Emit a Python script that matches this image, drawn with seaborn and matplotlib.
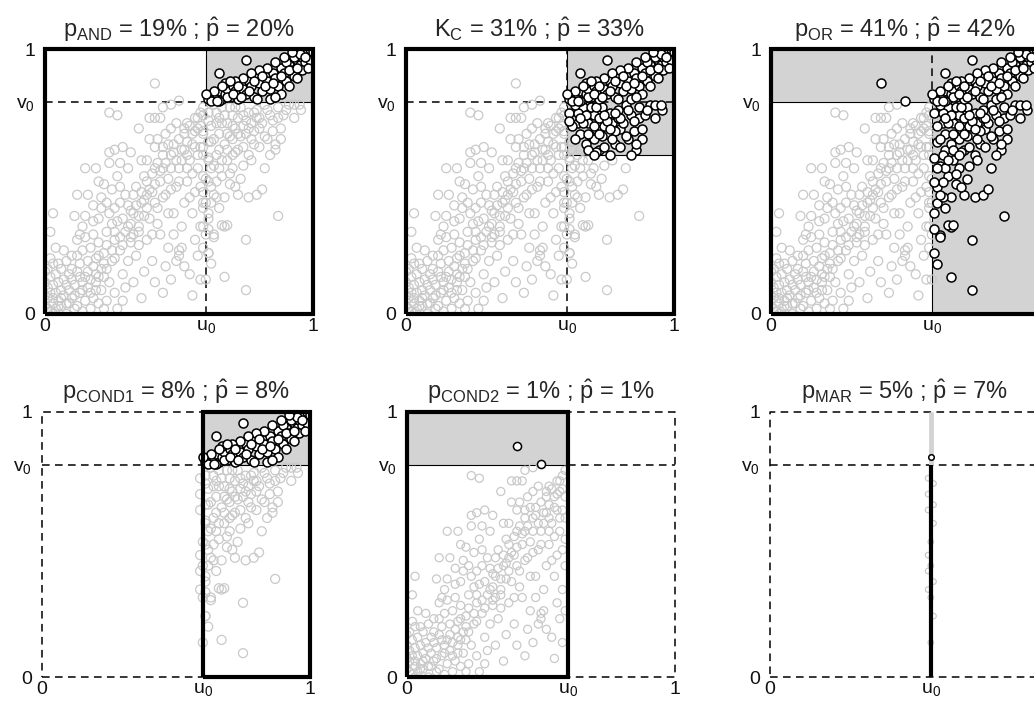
import numpy as np
import pandas as pd
import matplotlib
matplotlib.use("Agg")
import matplotlib.pyplot as plt
from matplotlib.patches import Rectangle
import seaborn as sns

# Thresholds of the six regions
U0, V0 = 0.6, 0.8

# Point cloud, grouped by area of the unit square
corner_pts = [
    (0.01, 0.02), (0.02, 0.01), (0.03, 0.04), (0.01, 0.06), (0.04, 0.02), (0.05, 0.05),
    (0.02, 0.08), (0.06, 0.03), (0.07, 0.07), (0.03, 0.11), (0.08, 0.04), (0.09, 0.09),
    (0.05, 0.12), (0.10, 0.06), (0.11, 0.11), (0.04, 0.15), (0.12, 0.03), (0.13, 0.08),
    (0.07, 0.13), (0.14, 0.12), (0.02, 0.14), (0.06, 0.17), (0.09, 0.15), (0.12, 0.16),
    (0.15, 0.05), (0.16, 0.10), (0.01, 0.10), (0.00, 0.03), (0.00, 0.07), (0.03, 0.00),
    (0.08, 0.00), (0.06, 0.09), (0.10, 0.13), (0.13, 0.14), (0.05, 0.19), (0.08, 0.20),
    (0.11, 0.02), (0.14, 0.01), (0.17, 0.02), (0.18, 0.06), (0.02, 0.21), (0.04, 0.25),
    (0.07, 0.24), (0.10, 0.22), (0.13, 0.19), (0.16, 0.16), (0.19, 0.12), (0.20, 0.04),
    (0.01, 0.17), (0.03, 0.19), (0.00, 0.12), (0.00, 0.16), (0.03, 0.38), (0.02, 0.31),
]
low_pts = [
    (0.12, 0.28), (0.14, 0.33), (0.11, 0.37), (0.15, 0.37), (0.12, 0.45), (0.15, 0.55),
    (0.17, 0.25), (0.18, 0.30), (0.19, 0.21), (0.20, 0.27), (0.21, 0.17), (0.22, 0.23),
    (0.18, 0.41), (0.20, 0.36), (0.21, 0.44), (0.23, 0.31), (0.24, 0.38), (0.22, 0.49),
    (0.25, 0.20), (0.26, 0.28), (0.24, 0.12), (0.27, 0.35), (0.28, 0.42), (0.25, 0.47),
    (0.26, 0.08), (0.29, 0.15), (0.28, 0.24), (0.27, 0.52), (0.24, 0.57), (0.28, 0.57),
    (0.30, 0.31), (0.30, 0.45), (0.17, 0.08), (0.19, 0.15), (0.23, 0.05), (0.21, 0.09),
    (0.16, 0.20), (0.14, 0.24), (0.13, 0.30), (0.20, 0.50), (0.23, 0.42), (0.25, 0.34),
    (0.22, 0.14), (0.18, 0.35), (0.16, 0.45), (0.19, 0.55), (0.24, 0.61), (0.26, 0.62),
    (0.29, 0.63), (0.24, 0.76), (0.27, 0.75), (0.21, 0.40), (0.15, 0.29), (0.12, 0.22),
    (0.29, 0.05), (0.27, 0.02), (0.22, 0.02), (0.30, 0.10), (0.26, 0.40), (0.28, 0.48),
]
mid_pts = [
    (0.31, 0.20), (0.32, 0.27), (0.33, 0.38), (0.34, 0.48), (0.31, 0.55), (0.35, 0.33),
    (0.36, 0.42), (0.32, 0.61), (0.35, 0.70), (0.37, 0.52), (0.38, 0.28), (0.36, 0.06),
    (0.33, 0.12), (0.39, 0.36), (0.40, 0.46), (0.38, 0.58), (0.41, 0.63), (0.39, 0.74),
    (0.41, 0.74), (0.43, 0.74), (0.42, 0.66), (0.44, 0.55), (0.42, 0.40), (0.43, 0.30),
    (0.44, 0.08), (0.45, 0.18), (0.46, 0.25), (0.47, 0.13), (0.45, 0.45), (0.46, 0.51),
    (0.47, 0.60), (0.45, 0.68), (0.47, 0.70), (0.44, 0.78), (0.47, 0.79), (0.48, 0.38),
    (0.49, 0.48), (0.50, 0.55), (0.48, 0.64), (0.50, 0.22), (0.49, 0.20), (0.50, 0.24),
    (0.34, 0.22), (0.37, 0.16), (0.40, 0.20), (0.41, 0.12), (0.38, 0.45), (0.36, 0.58),
    (0.33, 0.45), (0.43, 0.50), (0.41, 0.55), (0.39, 0.66), (0.35, 0.26), (0.32, 0.34),
    (0.42, 0.34), (0.46, 0.38), (0.48, 0.30), (0.40, 0.30), (0.31, 0.41), (0.37, 0.37),
    (0.44, 0.63), (0.49, 0.72), (0.41, 0.87), (0.50, 0.805),
]
diag_pts = [
    (0.18, 0.18), (0.20, 0.22), (0.22, 0.19), (0.23, 0.26), (0.25, 0.24), (0.26, 0.31),
    (0.28, 0.29), (0.29, 0.36), (0.31, 0.33), (0.32, 0.39), (0.33, 0.30), (0.34, 0.41),
    (0.35, 0.37), (0.36, 0.46), (0.37, 0.43), (0.38, 0.50), (0.39, 0.47), (0.40, 0.53),
    (0.41, 0.49), (0.42, 0.57), (0.43, 0.54), (0.44, 0.60), (0.45, 0.57), (0.46, 0.64),
    (0.47, 0.55), (0.48, 0.61), (0.49, 0.58), (0.50, 0.66), (0.51, 0.62), (0.52, 0.68),
    (0.53, 0.60), (0.54, 0.71), (0.55, 0.64), (0.56, 0.69), (0.57, 0.74), (0.58, 0.71),
    (0.53, 0.55), (0.50, 0.50), (0.47, 0.47), (0.44, 0.44), (0.41, 0.42), (0.38, 0.40),
    (0.35, 0.31), (0.32, 0.29), (0.29, 0.26), (0.26, 0.21), (0.23, 0.17), (0.20, 0.14),
    (0.17, 0.13), (0.14, 0.09), (0.11, 0.07), (0.09, 0.04), (0.06, 0.06), (0.04, 0.08),
    (0.08, 0.11), (0.10, 0.17), (0.15, 0.14), (0.19, 0.09), (0.03, 0.06), (0.05, 0.03),
]
near_u0_pts = [
    (0.51, 0.33), (0.52, 0.42), (0.53, 0.50), (0.54, 0.58), (0.52, 0.62), (0.55, 0.68),
    (0.53, 0.72), (0.56, 0.46), (0.57, 0.55), (0.58, 0.63), (0.55, 0.38), (0.56, 0.28),
    (0.54, 0.15), (0.55, 0.07), (0.57, 0.70), (0.58, 0.76), (0.59, 0.52), (0.59, 0.42),
    (0.58, 0.33), (0.57, 0.22), (0.51, 0.25), (0.52, 0.18), (0.53, 0.65), (0.56, 0.74),
    (0.59, 0.68), (0.51, 0.58), (0.54, 0.44), (0.57, 0.60), (0.59, 0.78), (0.55, 0.53),
    (0.58, 0.48), (0.52, 0.70), (0.56, 0.63), (0.59, 0.60), (0.58, 0.13), (0.59, 0.25),
]
right_pts = [
    (0.61, 0.38), (0.62, 0.48), (0.63, 0.56), (0.62, 0.65), (0.64, 0.72), (0.61, 0.76),
    (0.65, 0.62), (0.66, 0.52), (0.67, 0.44), (0.68, 0.58), (0.69, 0.67), (0.70, 0.75),
    (0.66, 0.78), (0.63, 0.30), (0.67, 0.33), (0.67, 0.14), (0.75, 0.09), (0.75, 0.28),
    (0.72, 0.45), (0.76, 0.44), (0.79, 0.45), (0.73, 0.51), (0.72, 0.62), (0.74, 0.56),
    (0.75, 0.68), (0.77, 0.72), (0.78, 0.64), (0.79, 0.77), (0.71, 0.70), (0.73, 0.78),
    (0.76, 0.60), (0.62, 0.19), (0.61, 0.23), (0.61, 0.32), (0.62, 0.42), (0.64, 0.50),
    (0.66, 0.335), (0.68, 0.335), (0.63, 0.29), (0.65, 0.68), (0.68, 0.72), (0.70, 0.55),
    (0.74, 0.63), (0.77, 0.58), (0.80, 0.70), (0.61, 0.59), (0.63, 0.66), (0.64, 0.44),
    (0.69, 0.49), (0.71, 0.61), (0.65, 0.55), (0.67, 0.64), (0.62, 0.71), (0.70, 0.66),
    (0.64, 0.76), (0.66, 0.72), (0.69, 0.78), (0.72, 0.74), (0.74, 0.71), (0.76, 0.76),
    (0.78, 0.69), (0.81, 0.72), (0.83, 0.66), (0.85, 0.69), (0.80, 0.63), (0.77, 0.66),
    (0.73, 0.67), (0.70, 0.71), (0.67, 0.75), (0.63, 0.79), (0.65, 0.74), (0.68, 0.68),
    (0.71, 0.78), (0.75, 0.73), (0.79, 0.74), (0.82, 0.79), (0.84, 0.75), (0.87, 0.74),
    (0.91, 0.79), (0.93, 0.79), (0.88, 0.66), (0.86, 0.62), (0.81, 0.47), (0.87, 0.37),
    (0.86, 0.64), (0.85, 0.73), (0.89, 0.75), (0.82, 0.67), (0.84, 0.60), (0.88, 0.70),
    (0.83, 0.77), (0.87, 0.78), (0.90, 0.77), (0.93, 0.74), (0.955, 0.77), (0.95, 0.79),
    (0.80, 0.74), (0.82, 0.55), (0.62, 0.55), (0.64, 0.60), (0.66, 0.58), (0.68, 0.62),
    (0.70, 0.60), (0.72, 0.68), (0.74, 0.75), (0.76, 0.70), (0.78, 0.76), (0.63, 0.45),
    (0.65, 0.40), (0.69, 0.53), (0.71, 0.48), (0.61, 0.50),
]
top_right_pts = [
    (0.61, 0.81), (0.62, 0.83), (0.63, 0.81), (0.64, 0.82), (0.65, 0.84), (0.66, 0.81),
    (0.67, 0.83), (0.68, 0.85), (0.69, 0.82), (0.70, 0.86), (0.71, 0.84), (0.72, 0.81),
    (0.73, 0.87), (0.74, 0.85), (0.75, 0.83), (0.76, 0.88), (0.77, 0.86), (0.78, 0.82),
    (0.79, 0.89), (0.80, 0.87), (0.81, 0.84), (0.82, 0.90), (0.83, 0.88), (0.84, 0.85),
    (0.85, 0.91), (0.86, 0.89), (0.87, 0.86), (0.88, 0.93), (0.89, 0.91), (0.90, 0.88),
    (0.91, 0.94), (0.92, 0.92), (0.93, 0.90), (0.94, 0.96), (0.95, 0.94), (0.96, 0.97),
    (0.97, 0.95), (0.98, 0.98), (0.99, 0.99), (0.97, 0.99), (0.93, 0.97), (0.90, 0.95),
    (0.86, 0.95), (0.83, 0.93), (0.80, 0.92), (0.77, 0.91), (0.74, 0.89), (0.71, 0.88),
    (0.68, 0.82), (0.65, 0.805), (0.62, 0.805), (0.75, 0.96), (0.65, 0.91), (0.79, 0.81),
    (0.84, 0.81), (0.88, 0.83), (0.91, 0.86), (0.94, 0.89), (0.96, 0.92), (0.99, 0.96),
    (0.98, 0.93), (0.95, 0.98), (0.92, 0.99), (0.89, 0.97), (0.82, 0.86), (0.76, 0.84),
    (0.70, 0.83), (0.67, 0.87), (0.73, 0.82), (0.86, 0.82), (0.99, 1.00), (1.00, 0.99),
    (0.63, 0.84), (0.66, 0.86), (0.69, 0.88), (0.72, 0.86), (0.78, 0.88), (0.81, 0.90),
    (0.85, 0.87), (0.88, 0.90), (0.91, 0.92), (0.94, 0.93), (0.97, 0.97), (0.64, 0.805),
]
# points lying on the u = u0 line (last panel)
marginal_u = [0.60, 0.59, 0.61, 0.59, 0.61, 0.59, 0.61, 0.60, 0.59, 0.60,
              0.59, 0.61, 0.59, 0.60, 0.61, 0.60]
marginal_v = [0.83, 0.75, 0.73, 0.69, 0.65, 0.63, 0.58, 0.51, 0.46, 0.42,
              0.40, 0.36, 0.33, 0.30, 0.23, 0.13]

titles = [
    r"$\mathrm{p_{AND}}$ = 19% ; $\hat{\mathrm{p}}$ = 20%",
    r"$\mathrm{K_C}$ = 31% ; $\hat{\mathrm{p}}$ = 33%",
    r"$\mathrm{p_{OR}}$ = 41% ; $\hat{\mathrm{p}}$ = 42%",
    r"$\mathrm{p_{COND1}}$ = 8% ; $\hat{\mathrm{p}}$ = 8%",
    r"$\mathrm{p_{COND2}}$ = 1% ; $\hat{\mathrm{p}}$ = 1%",
    r"$\mathrm{p_{MAR}}$ = 5% ; $\hat{\mathrm{p}}$ = 7%",
]

GREY = "#c9c9c9"
SHADE = "#d3d3d3"
THICK = dict(color="black", lw=3.0, solid_joinstyle="miter", solid_capstyle="butt", clip_on=False, zorder=5)
DASH = dict(color="black", lw=1.1, ls=(0, (5, 3.5)), clip_on=False, zorder=1)
THIN = dict(color="black", lw=0.8, clip_on=False, zorder=1)


def gumbel(u, v, theta=3.0):
    """Gumbel copula, used to pick the points above the Kendall level curve."""
    s = (-np.log(u)) ** theta + (-np.log(v)) ** theta
    return np.exp(-s ** (1.0 / theta))


def build_data() -> pd.DataFrame:
    pts = corner_pts + low_pts + mid_pts + diag_pts + near_u0_pts + right_pts + top_right_pts
    df = pd.DataFrame(pts, columns=["u", "v"])
    df["marg"] = False
    mg = pd.DataFrame({"u": marginal_u, "v": marginal_v, "marg": True})
    return pd.concat([df, mg], ignore_index=True)


def box(ax, x0, x1, y0, y1, **kw):
    ax.plot([x0, x1, x1, x0, x0], [y0, y0, y1, y1, y0], **kw)


def shade(ax, x0, x1, y0, y1, edge=True):
    ax.add_patch(Rectangle((x0, y0), x1 - x0, y1 - y0, facecolor=SHADE,
                           edgecolor="black" if edge else "none", lw=0.8, zorder=0.5))


def points(ax, df, black, s=42):
    g = df[~black]
    b = df[black]
    sns.scatterplot(x=g["u"], y=g["v"], ax=ax, s=s, color=GREY, edgecolor=GREY,
                    facecolor="none", linewidth=0.9, zorder=2)
    if len(b):
        sns.scatterplot(x=b["u"], y=b["v"], ax=ax, s=s, color="black", edgecolor="black",
                        facecolor="white", linewidth=1.1, zorder=4)


def style(ax, title):
    ax.set_xlim(0, 1)
    ax.set_ylim(0, 1)
    ax.set(xlabel="", ylabel="")
    for sp in ax.spines.values():
        sp.set_visible(False)
    ax.set_xticks([0, U0, 1])
    ax.set_xticklabels(["0", r"$\mathrm{u_0}$", "1"])
    ax.set_yticks([0, V0, 1])
    ax.set_yticklabels(["0", r"$\mathrm{v_0}$", "1"])
    ax.tick_params(axis="both", length=0, labelsize=14, colors="#111111")
    ax.tick_params(axis="x", pad=3)
    ax.tick_params(axis="y", pad=7)
    ax.set_title(title, fontsize=17, pad=9)
    ax.set_facecolor("none")


def main() -> None:
    sns.set_style("white")
    plt.rcParams["font.family"] = ["Liberation Sans", "DejaVu Sans"]
    plt.rcParams["mathtext.fontset"] = "custom"
    plt.rcParams["mathtext.rm"] = "Liberation Sans"
    plt.rcParams["mathtext.it"] = "Liberation Sans:italic"
    plt.rcParams["mathtext.bf"] = "Liberation Sans:bold"

    df = build_data()
    u, v, marg = df["u"], df["v"], df["marg"]

    fig = plt.figure(figsize=(10.34, 7.04), dpi=100)
    W, H = 268 / 1034, 265 / 704
    lefts = [45 / 1034, 406 / 1034, 771 / 1034]
    top_b = 1 - 314 / 704
    bot_b = 1 - 677 / 704
    axs = [fig.add_axes([l, top_b, W, H]) for l in lefts] + \
          [fig.add_axes([l, bot_b, W, H]) for l in [42 / 1034, 407 / 1034, 770 / 1034]]

    # 1: AND
    ax = axs[0]
    shade(ax, U0, 1, V0, 1)
    ax.plot([U0, U0], [0, V0], **DASH)
    ax.plot([0, U0], [V0, V0], **DASH)
    points(ax, df, (u >= U0) & (v > V0))
    box(ax, 0, 1, 0, 1, **THICK)

    # 2: Kendall
    ax = axs[1]
    shade(ax, U0, 1, 0.6, 1)
    ax.plot([U0, U0], [0, 1], **DASH)
    ax.plot([0, 1], [V0, V0], **DASH)
    kc = (u >= U0) & (v >= 0.6) & (gumbel(u.clip(1e-6, 1), v.clip(1e-6, 1)) >= 0.566)
    points(ax, df, kc)
    box(ax, 0, 1, 0, 1, **THICK)

    # 3: OR
    ax = axs[2]
    shade(ax, 0, 1, V0, 1, edge=False)
    shade(ax, U0, 1, 0, 1, edge=False)
    ax.plot([0, U0], [V0, V0], **THIN)
    ax.plot([U0, U0], [0, V0], **THIN)
    ax.plot([U0, U0], [V0, 1], **DASH)
    points(ax, df, ((u > U0) & ~marg) | (v > V0))
    box(ax, 0, 1, 0, 1, **THICK)

    # 4: COND1 (u >= u0)
    ax = axs[3]
    box(ax, 0, 1, 0, 1, **DASH)
    shade(ax, U0, 1, V0, 1)
    ax.plot([0, U0], [V0, V0], **DASH)
    sub = df[(u >= U0) | marg]
    points(ax, sub, sub["v"] > V0)
    box(ax, U0, 1, 0, 1, **THICK)

    # 5: COND2 (u < u0)
    ax = axs[4]
    box(ax, 0, 1, 0, 1, **DASH)
    shade(ax, 0, U0, V0, 1)
    ax.plot([U0, 1], [V0, V0], **DASH)
    sub = df[(u < U0) & ~marg]
    points(ax, sub, sub["v"] > V0, s=34)
    box(ax, 0, U0, 0, 1, **THICK)

    # 6: MAR (u = u0)
    ax = axs[5]
    box(ax, 0, 1, 0, 1, **DASH)
    ax.plot([0, 1], [V0, V0], **DASH)
    ax.plot([U0, U0], [V0, 1], color=SHADE, lw=3.5, solid_capstyle="butt", zorder=1.5)
    ax.plot([U0, U0], [0, V0], **THICK)
    sub = df[marg]
    points(ax, sub, sub["v"] > V0, s=16)

    for ax, t in zip(axs, titles):
        style(ax, t)

    fig.savefig("out.png", dpi=100)


if __name__ == "__main__":
    main()
